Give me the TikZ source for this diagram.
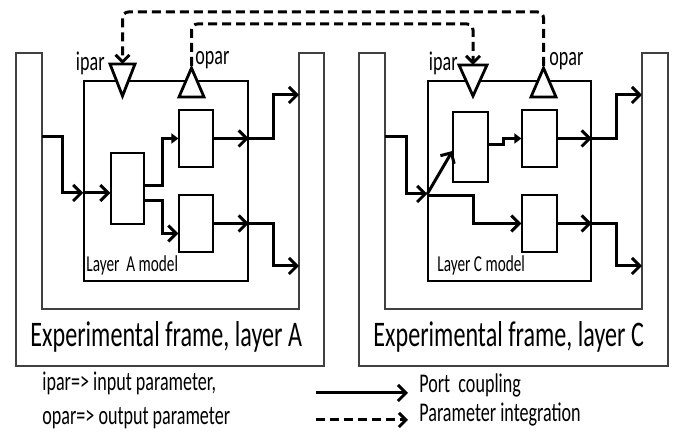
\documentclass[tikz,border=0pt]{standalone}
\usepackage{fontspec}
\setmainfont{Carlito}[FakeStretch=0.67]
\usetikzlibrary{arrows.meta,calc}
\begin{document}
\begin{tikzpicture}[x=0.5pt,y=-0.5pt,
 frame/.style={draw=black!75, line width=0.7pt},
 model/.style={draw, line width=0.75pt, inner sep=0pt},
 blk/.style={draw, line width=0.6pt, inner sep=0pt, minimum width=17pt, minimum height=28.5pt},
 pc/.style={line width=1.5pt, -{Straight Barb[length=4pt,width=8pt]}},
 pcs/.style={line width=1.5pt, -{Triangle[length=3.5pt,width=5pt]}},
 pi/.style={line width=1.5pt, dash pattern=on 4.5pt off 2.5pt, -{Straight Barb[length=3.5pt,width=7pt]}},
 tri/.style={draw, fill=white, line width=1.4pt, line join=miter},
 lbl/.style={inner sep=0pt, font=\fontsize{13.5}{15}\selectfont},
 mlbl/.style={inner sep=0pt, font=\fontsize{11.4}{13}\selectfont},
 big/.style={inner sep=0pt, font=\fontsize{18}{20}\selectfont},
]
\useasboundingbox (0,0) rectangle (681,437);

% experimental frames
\draw[frame] (16,53) -- (42,53) -- (42,309) -- (299,309) -- (299,53) -- (324,53) -- (324,366) -- (16,366) -- cycle;
\draw[frame] (359,53) -- (385,53) -- (385,309) -- (642,309) -- (642,53) -- (668,53) -- (668,366) -- (359,366) -- cycle;

% model boxes
\node[model, minimum width=82pt, minimum height=100pt] (mA) at (166,181) {};
\node[model, minimum width=81.5pt, minimum height=100pt] (mC) at (509.5,181) {};

% blocks
\node[blk, minimum height=35.5pt, minimum width=16.5pt] (a1) at (127.5,188.5) {};
\node[blk] (a2) at (196,138.5) {};
\node[blk] (a3) at (196,223.5) {};
\node[blk, minimum height=35pt, minimum width=17.5pt] (c1) at (470.5,147) {};
\node[blk, minimum width=17.5pt] (c2) at (539.5,138.5) {};
\node[blk, minimum width=17.5pt] (c3) at (539.5,223.5) {};

% frame ports
\coordinate (fAl) at (42,137);
\coordinate (fAr1) at (299,95);
\coordinate (fAr2) at (299,266);
\coordinate (fCl) at (385,137);
\coordinate (fCr1) at (642,95);
\coordinate (fCr2) at (642,266);
\coordinate (aIn) at (mA.west |- 0,193);
\coordinate (cIn) at (mC.west |- 0,194);

% couplings A
\draw[pc] (fAl) -- ++(20,0) |- (aIn);
\draw[pc] (aIn) -- (a1.west |- aIn);
\draw[pcs] ([yshift=1.5pt]a1.east) -- ++(18,0) |- (a2.west);
\draw[pc] ([yshift=-6pt]a1.east) -- ++(18,0) |- ([yshift=-5pt]a3.west);
\draw[pc] (a2.east) -- (mA.east |- a2.east);
\draw[pc] (mA.east |- a2.east) -- ++(25,0) |- (fAr1);
\draw[pc] (a3.east) -- (mA.east |- a3.east);
\draw[pc] (mA.east |- a3.east) -- ++(25,0) |- (fAr2);

% couplings C
\draw[pc] (fCl) -- ++(21,0) |- (cIn);
\draw[pc] (cIn) -- ([yshift=-2pt]c1.west);
\draw[pc] ([yshift=-1pt]cIn) -- ++(46,0) |- (c3.west);
\draw[pcs] ([yshift=1pt]c1.east) -- ++(15,0) |- (c2.west);
\draw[pc] (c2.east) -- (mC.east |- c2.east);
\draw[pc] (mC.east |- c2.east) -- ++(25,0) |- (fCr1);
\draw[pc] (c3.east) -- (mC.east |- c3.east);
\draw[pc] (mC.east |- c3.east) -- ++(25,0) |- (fCr2);

% parameter ports
\draw[tri] (110,64) -- (135,64) -- (122.5,96) -- cycle;
\coordinate (iAtop) at (122.5,64);
\draw[tri] (179,97) -- (204,97) -- (191.5,68) -- cycle;
\coordinate (oAtip) at (191.5,66);
\draw[tri] (459,65) -- (487,65) -- (473,96) -- cycle;
\coordinate (iCtop) at (473,65);
\draw[tri] (531,97) -- (556,97) -- (543.5,68) -- cycle;
\coordinate (oCtip) at (543.5,66);

% parameter integration
\draw[pi, rounded corners=3pt] (oCtip) -- (oCtip |- 0,12) -| (iAtop);
\draw[pi, rounded corners=3pt] (oAtip) -- (oAtip |- 0,24) -| (iCtop);

% labels
\node[lbl, anchor=base east] (tiA) at (105,71) {ipar};
\node[lbl, anchor=base west] (toA) at (195,65) {opar};
\node[lbl, anchor=base east] (tiC) at (458,71) {ipar};
\node[lbl, anchor=base west] (toC) at (549,66) {opar};
\node[mlbl, anchor=base west] (lA) at (86,272) {Layer\ \ A model};
\node[mlbl, anchor=base west] (lC) at (437,272) {Layer C model};
\node[big, anchor=base west] (eA) at (30,347) {Experimental frame, layer A};
\node[big, anchor=base west] (eC) at (373,347) {Experimental frame, layer C};

% legend
\node[lbl, anchor=base west] (g1) at (42,391) {ipar=> input parameter,};
\node[lbl, anchor=base west] (g2) at (42,425) {opar=> output parameter};
\coordinate (l1a) at (316,393);
\coordinate (l1b) at (408,393);
\draw[pc] (l1a) -- (l1b);
\coordinate (l2a) at (316,420);
\coordinate (l2b) at (408,420);
\draw[pi] (l2a) -- (l2b);
\node[lbl, anchor=base west] (g3) at (419,393) {Port\ \ coupling};
\node[lbl, anchor=base west] (g4) at (419,422) {Parameter integration};
\end{tikzpicture}
\end{document}
